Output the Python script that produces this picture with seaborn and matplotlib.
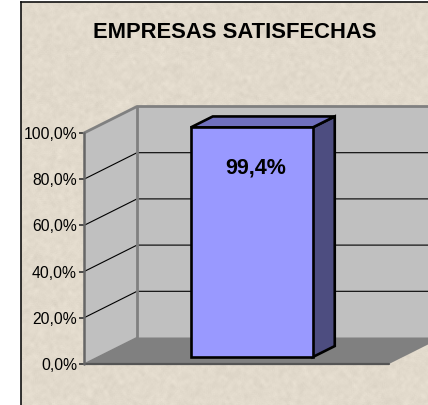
import numpy as np
import pandas as pd
import matplotlib.pyplot as plt
from matplotlib.patches import Polygon
import seaborn as sns

# Values
categories = ['Empresas satisfechas']
values = [99.4]
value_labels = ['99,4%']
y_ticks = [0, 20, 40, 60, 80, 100]
y_tick_labels = ['0,0%', '20,0%', '40,0%', '60,0%', '80,0%', '100,0%']
title = 'EMPRESAS SATISFECHAS'

W, H = 428, 405
sns.set_theme(style='white')
plt.rcParams['font.family'] = ['Liberation Sans', 'DejaVu Sans']

fig = plt.figure(figsize=(W / 100, H / 100), dpi=100, facecolor='white')

def px_axes(x0, y0, x1, y1, **kw):
    # axes from pixel box, y counted from the top of the picture
    return fig.add_axes([x0 / W, 1 - y1 / H, (x1 - x0) / W, (y1 - y0) / H], **kw)

# Paper texture behind the chart (decoration only, no data in it)
bg = px_axes(20.5, 2.5, W + 2, H + 2)
rng = np.random.default_rng(7)
noise = rng.normal(size=(H + 8, W + 8))
kernel = np.ones(5) / 5
soft = np.apply_along_axis(lambda r: np.convolve(r, kernel, mode='same'), 0, noise)
soft = np.apply_along_axis(lambda r: np.convolve(r, kernel, mode='same'), 1, soft)
base = np.array([226, 218, 204]) / 255
texture = np.clip(base[None, None, :] + (9 * soft + 1.5 * noise)[..., None] / 255, 0, 1)
bg.imshow(texture, aspect='auto', interpolation='bilinear')
bg.set_xticks([])
bg.set_yticks([])
for side in ['right', 'bottom']:
    bg.spines[side].set_visible(False)
for side in ['left', 'top']:
    bg.spines[side].set_color('#111111')
    bg.spines[side].set_linewidth(1.2)

# Front plane of the 3D box
ax = px_axes(84, 133, 389, 364)
ax.patch.set_alpha(0)
xmin, xmax = -0.55, 0.45
ymin, ymax = 0, 100

wall_dx = 53 / 305 * (xmax - xmin)
wall_dy = 26.5 / 231 * (ymax - ymin)
wall_grey = '#C0C0C0'
edge_grey = '#808080'

def add_poly(pts, fc, ec='none', lw=0, z=1):
    ax.add_patch(Polygon(pts, closed=True, facecolor=fc, edgecolor=ec, linewidth=lw,
                         zorder=z, clip_on=False, joinstyle='miter'))

# back wall, side wall, floor
add_poly([(xmin + wall_dx, ymin + wall_dy), (xmax + wall_dx, ymin + wall_dy),
          (xmax + wall_dx, ymax + wall_dy), (xmin + wall_dx, ymax + wall_dy)], wall_grey, z=1)
add_poly([(xmin, ymin), (xmin + wall_dx, ymin + wall_dy),
          (xmin + wall_dx, ymax + wall_dy), (xmin, ymax)], wall_grey, z=1)
add_poly([(xmin, ymin), (xmax, ymin), (xmax + wall_dx, ymin + wall_dy),
          (xmin + wall_dx, ymin + wall_dy)], edge_grey, z=1.5)

# gridlines across side wall and back wall
for t in y_ticks[1:-1]:
    ax.plot([xmin, xmin + wall_dx, xmax + wall_dx], [t, t + wall_dy, t + wall_dy],
            color='black', lw=0.8, zorder=2, clip_on=False)

# wall borders
ax.plot([xmin, xmin + wall_dx, xmax + wall_dx], [ymax, ymax + wall_dy, ymax + wall_dy],
        color=edge_grey, lw=2, zorder=2, clip_on=False)
ax.plot([xmin + wall_dx, xmin + wall_dx], [ymin + wall_dy, ymax + wall_dy],
        color=edge_grey, lw=2, zorder=2, clip_on=False)
ax.plot([xmin, xmin + wall_dx], [ymin, ymin + wall_dy],
        color=edge_grey, lw=1.0, zorder=2, clip_on=False)
ax.plot([xmin, xmax], [ymin, ymin], color='#555555', lw=1.6, zorder=2.5, clip_on=False)
ax.plot([xmin, xmin], [ymin, ymax], color='#666666', lw=1.8, zorder=2.5, clip_on=False)

# Bar front face
df = pd.DataFrame({'category': categories, 'value': values})
bar_lift = 3.0
sns.barplot(data=df, x='category', y='value', ax=ax, color='#9999FF', saturation=1,
            width=0.4, bottom=bar_lift, edgecolor='black', linewidth=1.9, zorder=5)

# Bar top and side faces, taken from the drawn bar
bar = ax.patches[-1]
bar.set_clip_on(False)
bx0, bx1 = bar.get_x(), bar.get_x() + bar.get_width()
by0, by1 = bar.get_y(), bar.get_y() + bar.get_height()
bar_dx = 22 / 305 * (xmax - xmin)
bar_dy = 11 / 231 * (ymax - ymin)
add_poly([(bx1, by0), (bx1 + bar_dx, by0 + bar_dy), (bx1 + bar_dx, by1 + bar_dy), (bx1, by1)],
         '#4D4D80', 'black', 1.9, z=4)
add_poly([(bx0, by1), (bx1, by1), (bx1 + bar_dx, by1 + bar_dy), (bx0 + bar_dx, by1 + bar_dy)],
         '#7070BE', 'black', 1.9, z=4)

ax.text((bx0 + bx1) / 2 + 0.012, values[0] - 14.5, value_labels[0], ha='center', va='center',
        fontsize=15.5, fontweight='bold', color='black', zorder=6)

ax.set_xlim(xmin, xmax)
ax.set_ylim(ymin, ymax)
ax.set_xticks([])
ax.set_yticks(y_ticks)
ax.set_yticklabels(y_tick_labels, fontsize=11.3, color='black')
ax.tick_params(axis='y', length=3.6, width=1.2, color='#333333', pad=1.5, left=True)
ax.set_xlabel('')
ax.set_ylabel('')
for s in ax.spines.values():
    s.set_visible(False)

fig.text(234.5 / W, 1 - 32.5 / H, title, ha='center', va='center', fontsize=15.8,
         fontweight='bold', color='black')

fig.savefig('out.png', dpi=100)
